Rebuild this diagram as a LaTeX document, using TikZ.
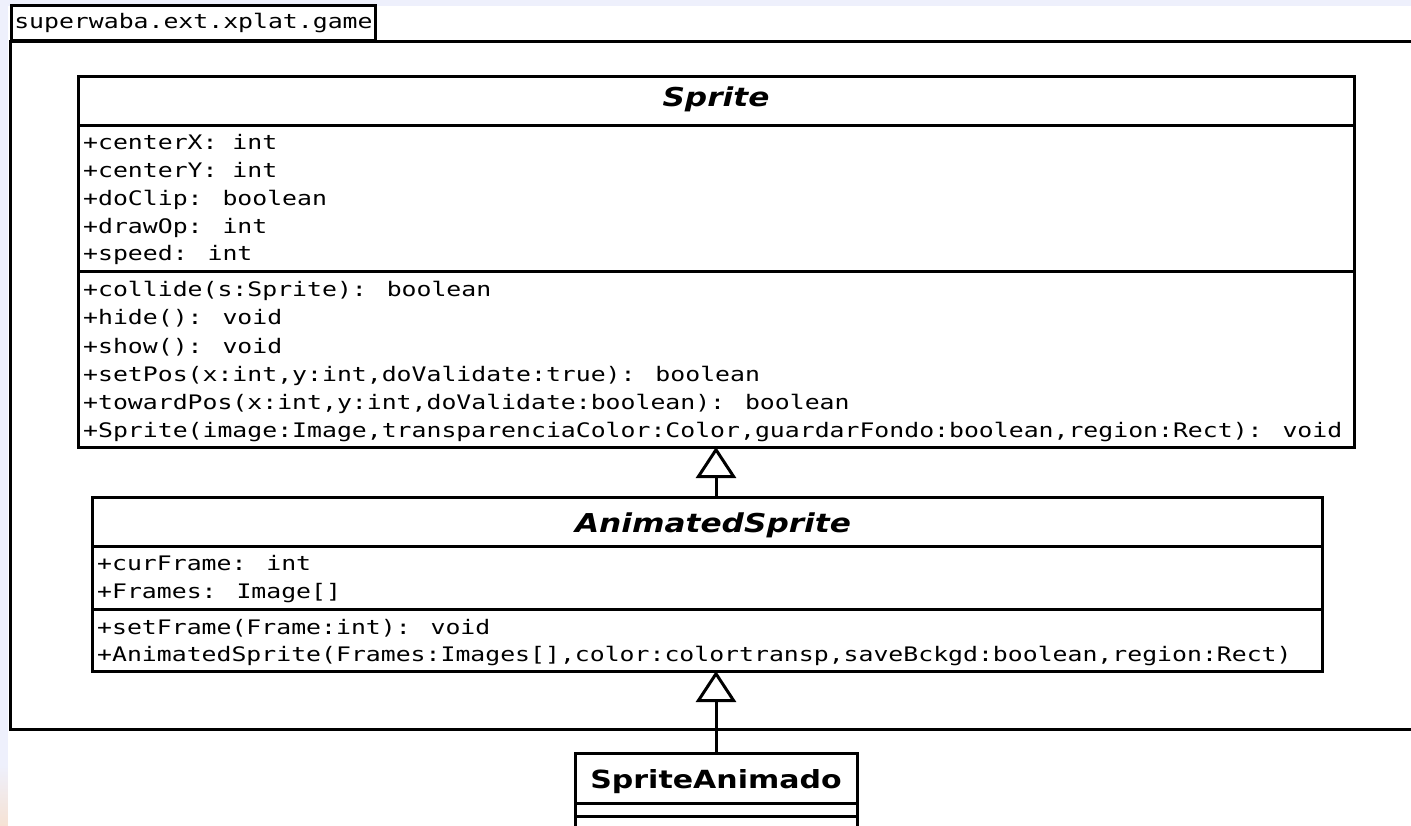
\documentclass[tikz,border=0pt]{standalone}
\usepackage{fontspec}
\usetikzlibrary{arrows.meta}
\newfontfamily\umlmono[FakeStretch=1.24]{DejaVu Sans Mono}
\newfontfamily\umlsans[FakeStretch=1.2]{DejaVu Sans}
\definecolor{pagebg}{RGB}{238,240,252}
\definecolor{peach}{RGB}{246,226,212}
\begin{document}
\begin{tikzpicture}[x=1pt,y=-1pt,
  frame/.style={line width=3pt},
  classbox/.style={draw, line width=3pt, fill=white, anchor=north west, inner sep=0pt, outer sep=0pt},
  sep/.style={line width=3pt},
  member/.style={anchor=base west, inner sep=0pt, font=\umlmono\fontsize{20}{24}\selectfont},
  abstractname/.style={anchor=base, inner sep=0pt, font=\umlsans\bfseries\itshape\fontsize{26}{30}\selectfont},
  classname/.style={anchor=base, inner sep=0pt, font=\umlsans\bfseries\fontsize{25}{30}\selectfont},
  inherit/.style={line width=3pt, -{Triangle[open, length=31pt, width=40pt, line width=3pt]}}
]
\useasboundingbox (0,0) rectangle (1411,826);
% backdrop
\fill[pagebg] (0,0) rectangle (1411,826);
\shade[top color=pagebg, bottom color=peach] (0,765) rectangle (8,826);
\fill[white] (8,6) rectangle (1411,826);

% package frame with its tab
\draw[frame] (1425,42) -- (10,42) -- (10,729) -- (1425,729);
\node[draw, line width=2.5pt, anchor=south west, minimum height=35pt, inner xsep=3pt, inner ysep=0pt,
      font=\umlmono\fontsize{20}{24}\selectfont] (pkgtab) at (10,42) {superwaba.ext.xplat.game};

% class Sprite
\node[classbox, minimum width=1276pt, minimum height=370pt] (sprite) at (78,77) {};
\draw[sep] (sprite.west |- 0,126) -- (sprite.east |- 0,126);
\draw[sep] (sprite.west |- 0,272) -- (sprite.east |- 0,272);
\node[abstractname] (spritename) at (716,107) {Sprite};
\node[member] (sa1) at (83,150) {+centerX: int};
\node[member] (sa2) at (83,178) {+centerY: int};
\node[member] (sa3) at (83,206) {+doClip: boolean};
\node[member] (sa4) at (83,234) {+drawOp: int};
\node[member] (sa5) at (83,261) {+speed: int};
\node[member] (sm1) at (83,297) {+collide(s:Sprite): boolean};
\node[member] (sm2) at (83,325) {+hide(): void};
\node[member] (sm3) at (83,353) {+show(): void};
\node[member] (sm4) at (83,381) {+setPos(x:int,y:int,doValidate:true): boolean};
\node[member] (sm5) at (83,409) {+towardPos(x:int,y:int,doValidate:boolean): boolean};
\node[member] (sm6) at (83,437) {+Sprite(image:Image,transparenciaColor:Color,guardarFondo:boolean,region:Rect): void};

% class AnimatedSprite
\node[classbox, minimum width=1230pt, minimum height=174pt] (animated) at (92,497) {};
\draw[sep] (animated.west |- 0,546) -- (animated.east |- 0,546);
\draw[sep] (animated.west |- 0,609) -- (animated.east |- 0,609);
\node[abstractname] (animatedname) at (713,532) {AnimatedSprite};
\node[member] (aa1) at (97,570) {+curFrame: int};
\node[member] (aa2) at (97,598) {+Frames: Image[]};
\node[member] (am1) at (97,634) {+setFrame(Frame:int): void};
\node[member] (am2) at (97,661) {+AnimatedSprite(Frames:Images[],color:colortransp,saveBckgd:boolean,region:Rect)};

% class SpriteAnimado
\node[classbox, minimum width=282pt, minimum height=110pt] (spanim) at (575,753) {};
\draw[sep] (spanim.west |- 0,803) -- (spanim.east |- 0,803);
\draw[sep] (spanim.west |- 0,816) -- (spanim.east |- 0,816);
\node[classname] (spanimname) at (716,788) {SpriteAnimado};

% generalisations
\draw[inherit] (animated.north -| sprite.south) -- (sprite.south);
\draw[inherit] (spanim.north) -- (spanim.north |- animated.south);
\end{tikzpicture}
\end{document}
